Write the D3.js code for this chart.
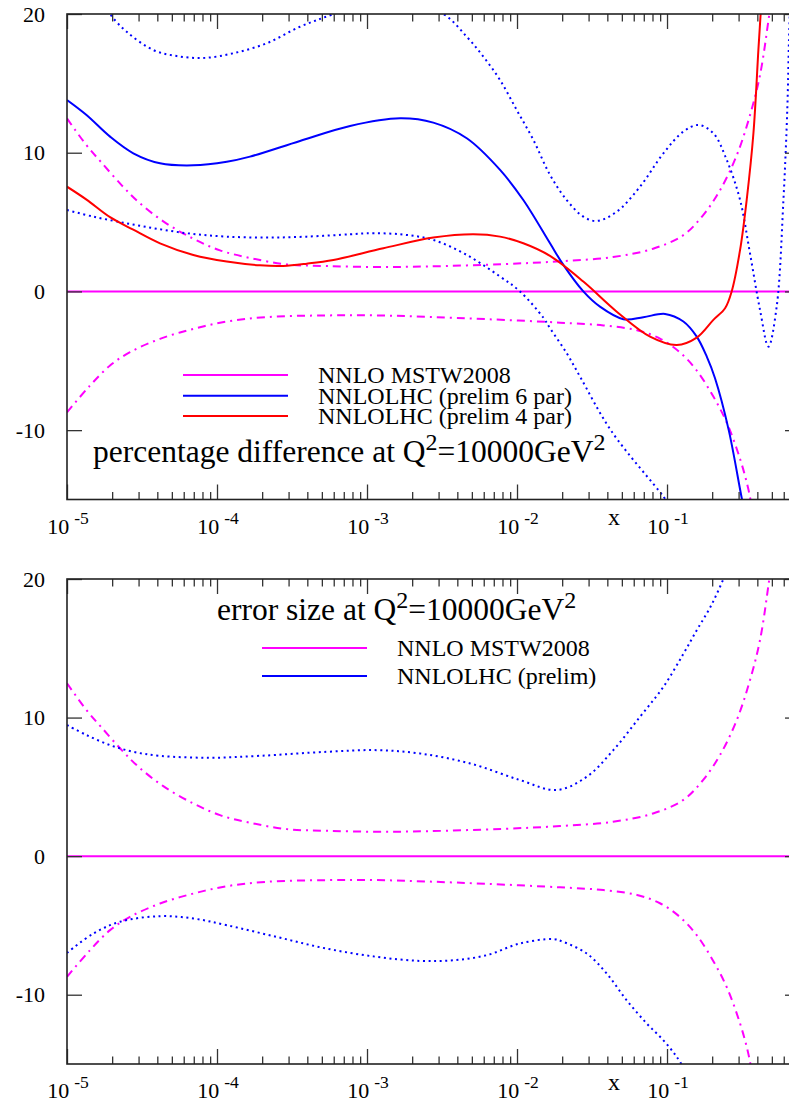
<!DOCTYPE html>
<html><head><meta charset="utf-8">
<script src="https://cdn.jsdelivr.net/npm/d3@7"></script>
<style>
body{margin:0;background:#fff}
svg{display:block}
text{font-family:"Liberation Serif","Times New Roman",serif;fill:#000}
</style>
</head><body>
<svg id="c" width="789" height="1101"></svg>
<script>
// ---------- data (x given as log10(x), value in %) ----------
const yTickValues = [20, 10, 0, -10];
const xMajorExponents = [-5, -4, -3, -2, -1];

// MSTW2008 NNLO error band (same in both panels)
const mstwUpper = [[-5,12.47],[-4.87,10.54],[-4.77,9.29],[-4.635,7.65],[-4.524,6.45],[-4.358,5.05],[-4.158,3.80],[-3.98,2.96],[-3.78,2.41],[-3.535,1.95],[-3.27,1.83],[-2.935,1.76],[-2.6,1.8],[-2.093,1.97],[-1.713,2.17],[-1.36,2.48],[-1.093,3.08],[-0.893,4.04],[-0.76,5.49],[-0.647,7.29],[-0.535,9.82],[-0.447,12.7],[-0.38,15.6],[-0.318,20],[-0.28,23]];
const mstwLower = [[-5,-8.71],[-4.847,-6.79],[-4.713,-5.34],[-4.58,-4.38],[-4.38,-3.42],[-4.158,-2.70],[-3.935,-2.17],[-3.669,-1.85],[-3.27,-1.73],[-2.935,-1.73],[-2.6,-1.83],[-2.2,-2.0],[-1.713,-2.25],[-1.424,-2.45],[-1.2,-2.8],[-1.047,-3.4],[-0.913,-4.4],[-0.802,-5.7],[-0.69,-7.6],[-0.602,-9.45],[-0.513,-12.08],[-0.458,-14.25],[-0.42,-16.5]];

// top panel: percentage difference
const lhc6Central = [[-5,13.80],[-4.87,12.72],[-4.713,11.16],[-4.558,9.96],[-4.38,9.24],[-4.158,9.09],[-3.935,9.35],[-3.78,9.72],[-3.447,10.85],[-3.113,11.93],[-2.78,12.48],[-2.558,12.17],[-2.335,11.04],[-2.113,8.76],[-1.958,6.59],[-1.78,3.47],[-1.691,1.91],[-1.558,0],[-1.447,-1.10],[-1.291,-2.00],[-1.158,-1.86],[-1.013,-1.62],[-0.891,-2.17],[-0.802,-3.26],[-0.735,-4.70],[-0.68,-6.26],[-0.589,-9.98],[-0.5,-15],[-0.47,-16.5]];
const lhc4Central = [[-5,7.55],[-4.87,6.62],[-4.713,5.35],[-4.558,4.45],[-4.38,3.47],[-4.158,2.63],[-3.935,2.15],[-3.713,1.88],[-3.558,1.84],[-3.402,2.0],[-3.224,2.27],[-2.891,3.11],[-2.558,3.88],[-2.291,4.12],[-2.113,3.95],[-1.958,3.47],[-1.78,2.56],[-1.558,0.71],[-1.335,-1.46],[-1.113,-3.26],[-0.935,-3.86],[-0.802,-3.33],[-0.691,-2.05],[-0.613,-1.21],[-0.569,0],[-0.513,2.99],[-0.469,6.59],[-0.424,11.40],[-0.391,17.4],[-0.376,20],[-0.36,23]];
const lhc6Upper = [[-4.76,21],[-4.713,20],[-4.602,18.72],[-4.424,17.4],[-4.269,16.97],[-4.091,16.83],[-3.891,17.17],[-3.669,17.89],[-3.447,19.08],[-3.224,20],[-2.86,21.5],[-2.491,20],[-2.335,18.36],[-2.224,16.92],[-2.113,15.24],[-2.002,13.08],[-1.891,10.92],[-1.78,8.40],[-1.669,6.59],[-1.558,5.39],[-1.469,5.08],[-1.335,5.75],[-1.18,7.55],[-1.024,9.96],[-0.891,11.52],[-0.791,12.0],[-0.691,11.40],[-0.602,9.48],[-0.513,6.59],[-0.447,2.75],[-0.38,-1.33],[-0.324,-3.98],[-0.269,-1.10],[-0.224,6.59],[-0.198,13.2],[-0.187,18.1],[-0.175,22]];
const lhc6Lower = [[-5,5.87],[-4.824,5.39],[-4.602,4.91],[-4.38,4.48],[-4.158,4.14],[-3.935,3.95],[-3.669,3.88],[-3.402,3.95],[-3.113,4.12],[-3.002,4.19],[-2.78,4.12],[-2.558,3.71],[-2.335,2.63],[-2.113,1.07],[-1.98,0],[-1.824,-1.9],[-1.78,-2.65],[-1.669,-4.45],[-1.58,-6.14],[-1.369,-10.1],[-1.024,-14.79],[-0.98,-15.5]];

// bottom panel: error size
const lhcErrUpper = [[-5,9.46],[-4.87,8.74],[-4.713,8.01],[-4.558,7.53],[-4.38,7.24],[-4.047,7.10],[-3.713,7.24],[-3.27,7.53],[-2.935,7.65],[-2.647,7.41],[-2.313,6.69],[-1.98,5.49],[-1.735,4.77],[-1.535,5.73],[-1.358,7.65],[-1.18,10.06],[-1.024,12.22],[-0.891,14.6],[-0.802,16.3],[-0.71,18.0],[-0.624,20],[-0.55,22]];
const lhcErrLower = [[-5,-6.98],[-4.824,-5.58],[-4.647,-4.74],[-4.38,-4.33],[-4.158,-4.50],[-3.935,-4.98],[-3.602,-5.83],[-3.27,-6.67],[-2.935,-7.27],[-2.647,-7.56],[-2.425,-7.51],[-2.202,-7.15],[-1.98,-6.30],[-1.758,-5.99],[-1.691,-6.19],[-1.535,-7.03],[-1.402,-8.47],[-1.269,-10.40],[-1.135,-12.08],[-1.024,-13.29],[-0.935,-14.49],[-0.87,-15.6]];

const topTitle = ["percentage difference at Q", "2", "=10000GeV", "2"];
const bottomTitle = ["error size at Q", "2", "=10000GeV", "2"];
const topLegend = ["NNLO MSTW2008", "NNLOLHC (prelim 6 par)", "NNLOLHC (prelim 4 par)"];
const bottomLegend = ["NNLO MSTW2008", "NNLOLHC (prelim)"];

// ---------- drawing ----------
const MAG = "#ff00ff", BLUE = "#0000ff", RED = "#ff0000";
const svg = d3.select("#c");
const x = d3.scaleLog().domain([1e-5, 0.77]).range([67, 800]);
const xMajor = xMajorExponents.map(e => Math.pow(10, e));
const xMinor = [];
xMajorExponents.forEach(e => { for (let m = 2; m <= 9; m++) { const v = m * Math.pow(10, e); if (v <= 0.77) xMinor.push(v); } });

const styles = {
  solid: {dash: null, w: 2},
  dotted: {dash: "2,3.6", w: 2},
  dashdot: {dash: "8,5,2,5", w: 2}
};

function drawPanel(p) {
  const y = d3.scaleLinear().domain([-15, 20]).range([p.bottom, p.top]);
  const g = svg.append("g");
  const clipId = "clip" + p.id;
  svg.append("defs").append("clipPath").attr("id", clipId)
    .append("rect").attr("x", x.range()[0]).attr("y", p.top)
    .attr("width", x.range()[1] - x.range()[0]).attr("height", p.bottom - p.top);

  const line = d3.line().x(d => x(Math.pow(10, d[0]))).y(d => y(d[1]))
    .curve(d3.curveCatmullRom.alpha(0.5));
  const cg = g.append("g").attr("clip-path", `url(#${clipId})`);
  // zero line
  cg.append("line").attr("x1", x.range()[0]).attr("x2", x.range()[1])
    .attr("y1", y(0)).attr("y2", y(0)).attr("stroke", MAG).attr("stroke-width", 2);
  p.series.forEach(s => {
    const st = styles[s.style];
    cg.append("path").attr("d", line(s.data)).attr("fill", "none")
      .attr("stroke", s.color).attr("stroke-width", st.w)
      .attr("stroke-dasharray", st.dash);
  });

  // axes (ticks inward)
  const tickCol = "#333";
  const mk = (axis, tx, ty) => {
    const a = g.append("g").attr("transform", `translate(${tx},${ty})`).call(axis);
    a.select(".domain").remove();
    a.selectAll("line").attr("stroke", tickCol).attr("stroke-width", 1.3);
    a.selectAll("text").remove();
  };
  mk(d3.axisBottom(x).tickValues(xMajor).tickSize(-15).tickFormat(""), 0, p.bottom);
  mk(d3.axisBottom(x).tickValues(xMinor).tickSize(-7.5).tickFormat(""), 0, p.bottom);
  mk(d3.axisTop(x).tickValues(xMajor).tickSize(-15).tickFormat(""), 0, p.top);
  mk(d3.axisTop(x).tickValues(xMinor).tickSize(-7.5).tickFormat(""), 0, p.top);
  mk(d3.axisLeft(y).tickValues(yTickValues).tickSize(-15).tickFormat(""), x.range()[0], 0);
  mk(d3.axisRight(y).tickValues(yTickValues).tickSize(-15).tickFormat(""), x.range()[1], 0);

  // frame
  g.append("rect").attr("x", x.range()[0]).attr("y", p.top)
    .attr("width", x.range()[1] - x.range()[0]).attr("height", p.bottom - p.top)
    .attr("fill", "none").attr("stroke", "#222").attr("stroke-width", 1.6);

  // y labels
  yTickValues.forEach(v => {
    g.append("text").attr("x", 45).attr("y", y(v) + 7.5).attr("text-anchor", "end")
      .attr("font-size", 22).text(v);
  });
  // x labels
  xMajorExponents.forEach(e => {
    const t = g.append("text").attr("x", x(Math.pow(10, e)) + 1).attr("y", p.bottom + 34)
      .attr("text-anchor", "middle").attr("font-size", 22);
    t.append("tspan").text("10");
    t.append("tspan").attr("dx", 5).attr("dy", -10).attr("font-size", 17.5).text(String(e));
  });
  g.append("text").attr("x", 614).attr("y", p.bottom + 25.5).attr("text-anchor", "middle")
    .attr("font-size", 24).text("x");

  // title
  const tt = g.append("text").attr("x", p.titleX).attr("y", p.titleY).attr("font-size", 31.5);
  tt.append("tspan").text(p.title[0]);
  tt.append("tspan").attr("dy", -12).attr("font-size", 24).text(p.title[1]);
  tt.append("tspan").attr("dy", 12).text(p.title[2]);
  tt.append("tspan").attr("dy", -12).attr("font-size", 24).text(p.title[3]);

  // legend
  p.legend.forEach((l, i) => {
    const ly = p.legY[i];
    g.append("line").attr("x1", p.legX1).attr("x2", p.legX2).attr("y1", ly).attr("y2", ly)
      .attr("stroke", l.color).attr("stroke-width", 2);
    g.append("text").attr("x", p.legTextX).attr("y", ly + 8.3).attr("font-size", 24).text(l.label);
  });
}

drawPanel({
  id: "top", top: 14, bottom: 499.5,
  series: [
    {data: mstwUpper, color: MAG, style: "dashdot"},
    {data: mstwLower, color: MAG, style: "dashdot"},
    {data: lhc6Upper, color: BLUE, style: "dotted"},
    {data: lhc6Lower, color: BLUE, style: "dotted"},
    {data: lhc6Central, color: BLUE, style: "solid"},
    {data: lhc4Central, color: RED, style: "solid"}
  ],
  title: topTitle, titleX: 93, titleY: 462,
  legend: [{label: topLegend[0], color: MAG}, {label: topLegend[1], color: BLUE}, {label: topLegend[2], color: RED}],
  legX1: 183, legX2: 288, legTextX: 318, legY: [375, 395.7, 416]
});
drawPanel({
  id: "bot", top: 579, bottom: 1064,
  series: [
    {data: mstwUpper, color: MAG, style: "dashdot"},
    {data: mstwLower, color: MAG, style: "dashdot"},
    {data: lhcErrUpper, color: BLUE, style: "dotted"},
    {data: lhcErrLower, color: BLUE, style: "dotted"}
  ],
  title: bottomTitle, titleX: 217, titleY: 620,
  legend: [{label: bottomLegend[0], color: MAG}, {label: bottomLegend[1], color: BLUE}],
  legX1: 262, legX2: 367, legTextX: 397, legY: [648, 676]
});
</script>
</body></html>
